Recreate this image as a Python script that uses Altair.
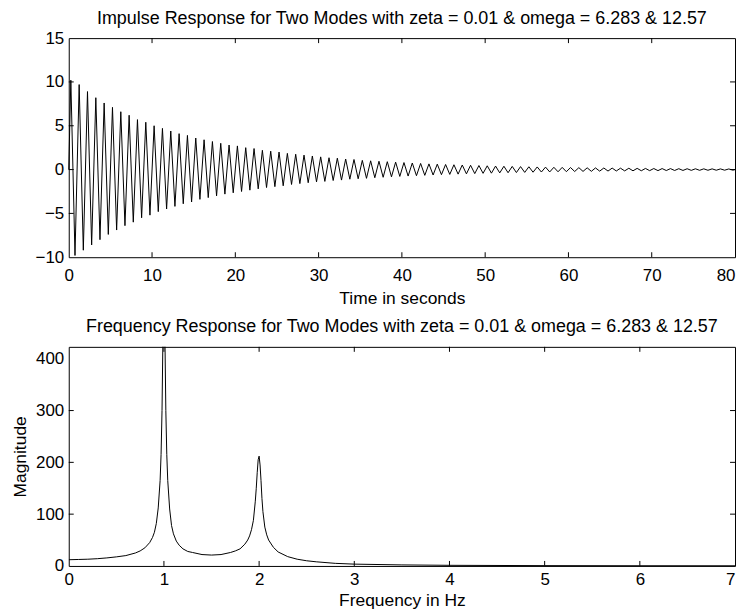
import altair as alt
import pandas as pd

# ---- Impulse response: one positive and one negative peak per second (1 Hz dominant mode)
peak_max = [10.2, 9.7, 8.9, 8.2, 7.6, 7.1, 6.6, 6.2, 5.7, 5.4,
            5.0, 4.7, 4.4, 4.1, 3.9, 3.6, 3.4, 3.2, 3.0, 2.8,
            2.7, 2.5, 2.4, 2.2, 2.1, 2.0, 1.85, 1.75, 1.65, 1.55,
            1.45, 1.35, 1.3, 1.2, 1.15, 1.05, 1.0, 0.95, 0.9, 0.85,
            0.8, 0.75, 0.7, 0.65, 0.62, 0.58, 0.55, 0.52, 0.49, 0.46,
            0.43, 0.4, 0.38, 0.36, 0.34, 0.32, 0.3, 0.28, 0.26, 0.25,
            0.23, 0.22, 0.2, 0.19, 0.18, 0.17, 0.16, 0.15, 0.14, 0.13,
            0.12, 0.115, 0.11, 0.1, 0.095, 0.09, 0.085, 0.08, 0.075, 0.07]
peak_min = [-9.8, -9.2, -8.6, -8.0, -7.4, -6.9, -6.4, -6.0, -5.5, -5.2,
            -4.8, -4.5, -4.2, -3.9, -3.7, -3.4, -3.2, -3.0, -2.8, -2.65,
            -2.5, -2.35, -2.2, -2.05, -1.95, -1.85, -1.7, -1.6, -1.5, -1.4,
            -1.35, -1.25, -1.2, -1.1, -1.05, -1.0, -0.93, -0.88, -0.83, -0.78,
            -0.74, -0.7, -0.66, -0.62, -0.58, -0.55, -0.52, -0.49, -0.46, -0.43,
            -0.41, -0.38, -0.36, -0.34, -0.32, -0.3, -0.28, -0.27, -0.25, -0.24,
            -0.22, -0.21, -0.2, -0.18, -0.17, -0.16, -0.15, -0.14, -0.135, -0.125,
            -0.12, -0.11, -0.105, -0.1, -0.09, -0.085, -0.08, -0.075, -0.07, -0.065]

# ---- Frequency response magnitude
freq_hz = [0, 0.1, 0.2, 0.3, 0.4, 0.5, 0.6, 0.7, 0.75, 0.8,
           0.85, 0.88, 0.9, 0.92, 0.94, 0.96, 0.97, 0.98, 0.99, 1.0,
           1.01, 1.02, 1.03, 1.04, 1.06, 1.08, 1.1, 1.13, 1.16, 1.2,
           1.25, 1.3, 1.4, 1.5, 1.6, 1.7, 1.75, 1.8, 1.85, 1.88,
           1.9, 1.92, 1.94, 1.96, 1.97, 1.98, 1.99, 2.0, 2.01, 2.02,
           2.03, 2.04, 2.06, 2.08, 2.1, 2.15, 2.2, 2.3, 2.4, 2.5,
           2.6, 2.8, 3.0, 3.5, 4.0, 5.0, 6.0, 7.0]
magnitude = [12, 12.5, 13, 14, 15.5, 17.5, 20, 25, 29, 35,
             45, 55, 65, 82, 112, 165, 215, 300, 450, 600,
             450, 300, 215, 165, 110, 78, 62, 48, 40, 33,
             28, 26, 22, 21, 22, 26, 29, 33, 42, 50,
             58, 70, 88, 125, 150, 180, 205, 212, 195, 165,
             130, 105, 75, 60, 50, 36, 27, 18, 13, 10,
             8, 5, 3.5, 2, 1.2, 0.6, 0.4, 0.3]

top_title = "Impulse Response for Two Modes with zeta = 0.01 & omega = 6.283 & 12.57"
bot_title = "Frequency Response for Two Modes with zeta = 0.01 & omega = 6.283 & 12.57"

x_ticks_top = [0, 10, 20, 30, 40, 50, 60, 70, 80]
y_ticks_top = [-10, -5, 0, 5, 10, 15]
x_ticks_bot = [0, 1, 2, 3, 4, 5, 6, 7]
y_ticks_bot = [0, 100, 200, 300, 400]

W = 669
H1 = 220
H2 = 220
TL = 5  # inward tick length

t_vals = [0.0]
v_vals = [0.0]
for k, (a, b) in enumerate(zip(peak_max, peak_min)):
    t_vals += [k + 0.25, k + 0.75]
    v_vals += [a, b]
t_vals.append(80.0)
v_vals.append(0.0)
imp = pd.DataFrame({"t": t_vals, "v": v_vals})
fr = pd.DataFrame({"f": freq_hz, "m": magnitude})


def panel(df, xenc, yenc, xf, xvals, yf, yvals, h, clip=False):
    r = dict(color="black", strokeWidth=1)
    line = alt.Chart(df).mark_line(color="black", strokeWidth=1, clip=clip).encode(x=xenc, y=yenc)
    xi = pd.DataFrame({xf: xvals[1:-1]})
    yi = pd.DataFrame({yf: yvals[1:-1]})
    bx = alt.Chart(xi).mark_rule(**r).encode(x=xenc, y=alt.value(h), y2=alt.value(h - TL))
    tx = alt.Chart(xi).mark_rule(**r).encode(x=xenc, y=alt.value(0), y2=alt.value(TL))
    ly = alt.Chart(yi).mark_rule(**r).encode(y=yenc, x=alt.value(0), x2=alt.value(TL))
    ry = alt.Chart(yi).mark_rule(**r).encode(y=yenc, x=alt.value(W), x2=alt.value(W - TL))
    return alt.layer(line, bx, tx, ly, ry)


x_top = alt.X("t:Q", scale=alt.Scale(domain=[0, 80], nice=False, zero=False),
              axis=alt.Axis(values=x_ticks_top, title="Time in seconds", format="d",
                            labelAlign={"expr": "datum.value === 80 ? 'right' : 'center'"},
                            labelPadding=10, titlePadding=6))
y_top = alt.Y("v:Q", scale=alt.Scale(domain=[-10, 15], nice=False, zero=False),
              axis=alt.Axis(values=y_ticks_top, title=None, format="d"))
top = panel(imp, x_top, y_top, "t", x_ticks_top, "v", y_ticks_top, H1).properties(
    width=W, height=H1, title=alt.TitleParams(top_title, offset=1))

x_bot = alt.X("f:Q", scale=alt.Scale(domain=[0, 7], nice=False, zero=False),
              axis=alt.Axis(values=x_ticks_bot, title="Frequency in Hz", format="d",
                            labelAlign={"expr": "datum.value === 7 ? 'right' : 'center'"},
                            labelPadding=6, titlePadding=4))
y_bot = alt.Y("m:Q", scale=alt.Scale(domain=[0, 423], nice=False, zero=False),
              axis=alt.Axis(values=y_ticks_bot, title="Magnitude", format="d"))
bottom = panel(fr, x_bot, y_bot, "f", x_ticks_bot, "m", y_ticks_bot, H2, clip=True).properties(
    width=W, height=H2, title=alt.TitleParams(bot_title, offset=10))

chart = alt.vconcat(top, bottom, spacing=11).properties(
    padding={"left": 3, "top": 0, "right": 0, "bottom": 0}
).configure(font="Liberation Sans").configure_view(
    stroke="black", strokeWidth=1
).configure_axis(
    grid=False, ticks=False, domain=False,
    labelFontSize=17, titleFontSize=17.5, labelColor="black", titleColor="black",
    titleFontWeight="normal",
    labelFlush=False, labelOverlap=False,
).configure_axisY(labelPadding=5, titlePadding=6).configure_title(
    fontSize=18, fontWeight="normal", color="black", anchor="middle"
)

chart.save("out.html", embed_options={"renderer": "svg", "actions": False})
